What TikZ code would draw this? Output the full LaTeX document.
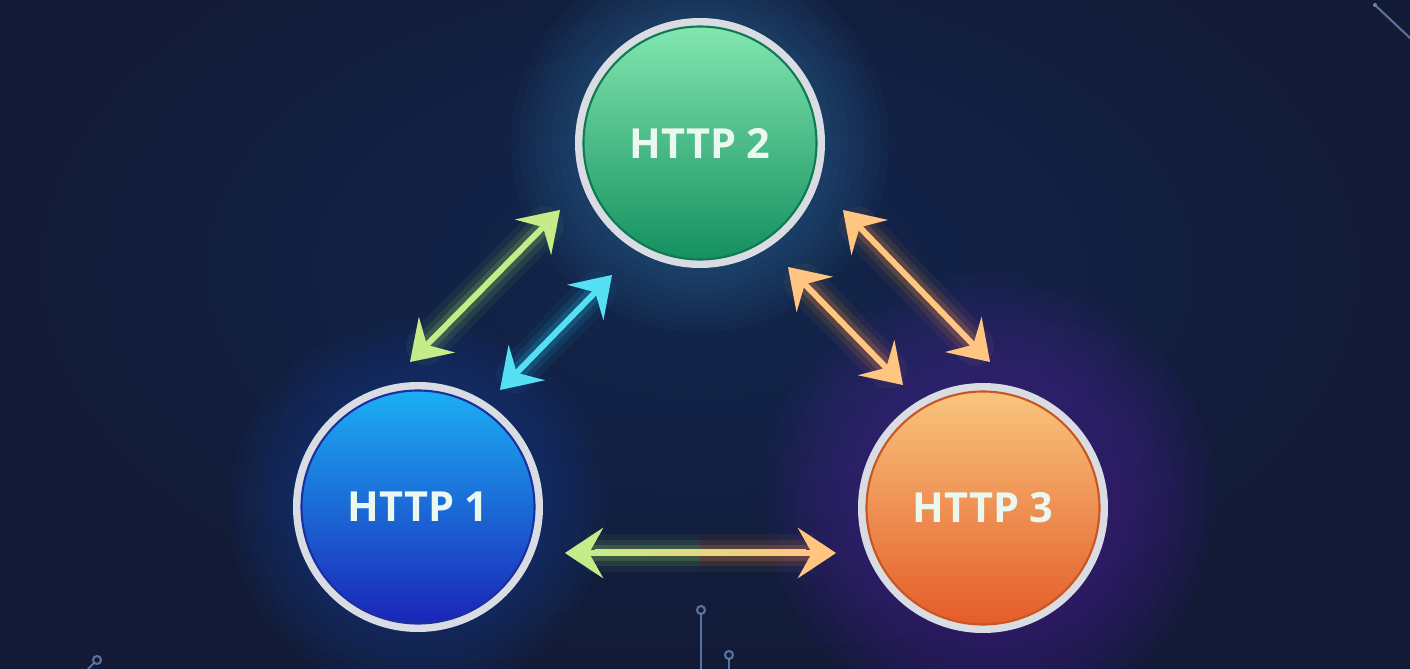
\documentclass[tikz,border=0pt]{standalone}
\usepackage{fontspec}
\setsansfont{Open Sans}
\usepackage{tikz}
\usetikzlibrary{arrows.meta, calc}

\definecolor{bgnavy}{HTML}{121A36}
\definecolor{midglow}{HTML}{1F3A6C}
\definecolor{purpleglow}{HTML}{4A2692}
\definecolor{blueglow}{HTML}{1C4396}
\definecolor{tealglow}{HTML}{2A6C9C}
\definecolor{ringgray}{HTML}{D9DDE3}
\definecolor{labelwhite}{HTML}{EAF8EF}
\definecolor{limecore}{HTML}{C6EC8A}
\definecolor{limeglow}{HTML}{9BE05A}
\definecolor{cyancore}{HTML}{55E0F4}
\definecolor{cyanglow}{HTML}{22C2EA}
\definecolor{orangecore}{HTML}{FFC581}
\definecolor{orangeglow}{HTML}{FF983A}
\definecolor{decoline}{HTML}{6A86B8}
% circle fills
\definecolor{greentop}{HTML}{84E8B2}
\definecolor{greenmid}{HTML}{1EAE78}
\definecolor{greenbot}{HTML}{128E5E}
\definecolor{greenedge}{HTML}{0F7A52}
\definecolor{bluetop}{HTML}{1CB2F6}
\definecolor{bluemid}{HTML}{1460E2}
\definecolor{bluebot}{HTML}{1A22B6}
\definecolor{blueedge}{HTML}{1A2FA0}
\definecolor{orangetop}{HTML}{F9C77F}
\definecolor{orangemid}{HTML}{F2823C}
\definecolor{orangebot}{HTML}{E45A28}
\definecolor{orangeedge}{HTML}{C9551F}

\tikzset{
    headtip/.tip={Stealth[length=3.8mm, width=5mm, inset=1.4mm]},
    proto/.style={circle, minimum size=2.42cm, draw=ringgray, line width=0.08cm,
        font=\sffamily\bfseries\fontsize{11.8}{14}\selectfont, text=labelwhite},
    link/.style={{headtip}-{headtip}, line width=1.7pt},
    linkglow/.style={{headtip}-{headtip}},
    deco/.style={decoline, line width=0.6pt, opacity=0.8}
}

\begin{document}
\begin{tikzpicture}[
        x=1cm,
        y=1cm,
        line join=round,
        line cap=round
    ]

        % =================================
        % BACKGROUND
        % =================================
        \fill[bgnavy] (0,0) rectangle (14.1,6.69);
        \useasboundingbox (0,0) rectangle (14.1,6.69);

        % soft glow in the middle
        \foreach \k in {1,...,12}
            \fill[midglow, opacity=0.05] (7.0,4.0) ellipse ({0.55*\k} and {0.32*\k});

        % purple glow behind HTTP 3
        \foreach \k in {1,...,10}
            \fill[purpleglow, opacity=0.07] (9.9,1.7) circle ({1.25+0.1*\k});

        % blue glow behind HTTP 1
        \foreach \k in {1,...,8}
            \fill[blueglow, opacity=0.06] (4.18,1.62) circle ({1.25+0.08*\k});

        % teal glow behind HTTP 2
        \foreach \k in {1,...,8}
            \fill[tealglow, opacity=0.06] (7.00,5.26) circle ({1.25+0.08*\k});


        % =================================
        % DECORATIVE LINES
        % =================================
        \draw[deco] (13.75,6.64) -- (14.1,6.31);
        \fill[decoline] (13.75,6.64) circle (0.02);

        \draw[deco] (0.88,0) -- (0.94,0.06);
        \draw[deco] (0.97,0.09) circle (0.04);

        \draw[deco] (7.01,0) -- (7.01,0.55);
        \draw[deco] (7.01,0.59) circle (0.04);

        \draw[deco] (7.29,0) -- (7.29,0.10);
        \draw[deco] (7.29,0.14) circle (0.04);


        % =================================
        % LINK END POINTS
        % =================================
        \coordinate (ga) at (4.10,3.07);
        \coordinate (gb) at (5.60,4.59);

        \coordinate (ca) at (5.00,2.79);
        \coordinate (cb) at (6.12,3.94);

        \coordinate (oa) at (8.43,4.59);
        \coordinate (ob) at (9.90,3.07);

        \coordinate (ia) at (7.88,4.02);
        \coordinate (ib) at (9.03,2.84);

        \coordinate (hl) at (5.65,1.16);
        \coordinate (hm) at (7.00,1.16);
        \coordinate (hr) at (8.36,1.16);


        % =================================
        % LINKS
        % =================================

        % HTTP 1 -- HTTP 2, outer (green)
        \foreach \w/\o in {11/0.06, 7.5/0.10, 4.5/0.18}
            \draw[linkglow, draw=limeglow, fill=limeglow, line width=\w pt, opacity=\o] (ga) -- (gb);
        \draw[link, draw=limecore, fill=limecore] (ga) -- (gb);

        % HTTP 1 -- HTTP 2, inner (cyan)
        \foreach \w/\o in {11/0.06, 7.5/0.10, 4.5/0.18}
            \draw[linkglow, draw=cyanglow, fill=cyanglow, line width=\w pt, opacity=\o] (ca) -- (cb);
        \draw[link, draw=cyancore, fill=cyancore] (ca) -- (cb);

        % HTTP 2 -- HTTP 3, outer (orange)
        \foreach \w/\o in {11/0.06, 7.5/0.10, 4.5/0.18}
            \draw[linkglow, draw=orangeglow, fill=orangeglow, line width=\w pt, opacity=\o] (oa) -- (ob);
        \draw[link, draw=orangecore, fill=orangecore] (oa) -- (ob);

        % HTTP 2 -- HTTP 3, inner (orange)
        \foreach \w/\o in {11/0.06, 7.5/0.10, 4.5/0.18}
            \draw[linkglow, draw=orangeglow, fill=orangeglow, line width=\w pt, opacity=\o] (ia) -- (ib);
        \draw[link, draw=orangecore, fill=orangecore] (ia) -- (ib);

        % HTTP 1 -- HTTP 3 (green to orange)
        \foreach \w/\o in {11/0.06, 7.5/0.10, 4.5/0.18} {
            \draw[{headtip}-, line cap=butt, draw=limeglow, fill=limeglow, line width=\w pt, opacity=\o] (hl) -- (hm);
            \draw[-{headtip}, line cap=butt, draw=orangeglow, fill=orangeglow, line width=\w pt, opacity=\o] (hm) -- (hr);
        }
        \draw[{headtip}-, line cap=butt, draw=limecore, fill=limecore, line width=1.7pt] (hl) -- (hm);
        \draw[-{headtip}, line cap=butt, draw=orangecore, fill=orangecore, line width=1.7pt] (hm) -- (hr);
        \shade[left color=limecore, right color=orangecore]
            ($(hl)+(0.3,-0.03)$) rectangle ($(hr)+(-0.3,0.03)$);


        % =================================
        % PROTOCOL CIRCLES
        % =================================
        \node[proto, top color=greentop, middle color=greenmid, bottom color=greenbot]
            (h2) at (7.00,5.26) {HTTP 2};
        \node[proto, top color=bluetop, middle color=bluemid, bottom color=bluebot]
            (h1) at (4.18,1.62) {HTTP 1};
        \node[proto, top color=orangetop, middle color=orangemid, bottom color=orangebot]
            (h3) at (9.83,1.61) {HTTP 3};

        % inner edge of the rings
        \draw[greenedge, line width=0.6pt] (h2) circle (1.165);
        \draw[blueedge, line width=0.6pt] (h1) circle (1.165);
        \draw[orangeedge, line width=0.6pt] (h3) circle (1.165);

    \end{tikzpicture}
\end{document}
